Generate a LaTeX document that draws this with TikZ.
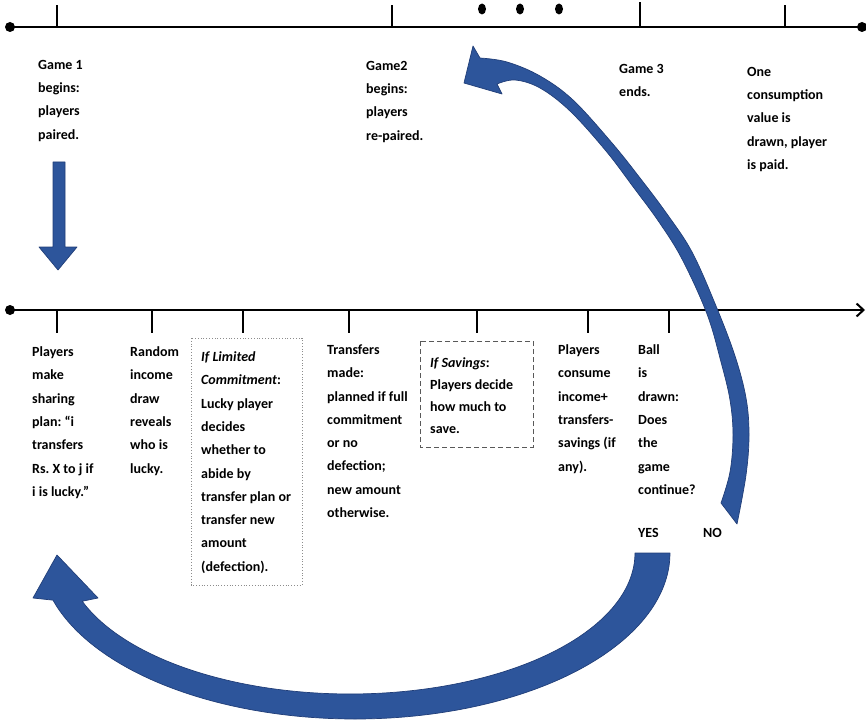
\documentclass[tikz,border=0pt]{standalone}
\usepackage{fontspec}
\setmainfont{Carlito}
\usetikzlibrary{arrows.meta}
\definecolor{arrblue}{RGB}{45,85,155}
\definecolor{arredge}{RGB}{33,62,120}
\frenchspacing
\begin{document}
\begin{tikzpicture}[x=1pt,y=-1pt,
  lbl/.style={anchor=north west,inner sep=0pt,align=left,font=\fontsize{14}{23.3}\selectfont\bfseries},
  tl/.style={line width=2pt},
  tickline/.style={line width=1.4pt},
  bigarrow/.style={fill=arrblue,draw=arredge,line width=0.7pt,line join=round}]
\useasboundingbox (0,0) rectangle (866,719);

% ---------- top timeline ----------
\coordinate (ta) at (10,27);
\coordinate (tb) at (866,27);
\draw[tl] (ta) -- (tb);
\fill (ta) circle[radius=5pt];
\fill (862,27) circle[radius=5pt];
\foreach \x/\y in {57/5,392/5,640/2,785/5}
  \draw[tickline] (\x,27) -- (\x,\y);
\foreach \x in {482,520,559}
  \fill (\x,9) ellipse[x radius=4pt,y radius=5.5pt];

% top labels
\node[lbl] (g1) at (38,60) {Game 1\\begins:\\players\\paired.};
\node[lbl] (g2) at (366,61) {Game2\\begins:\\players\\re-paired.};
\node[lbl] (g3) at (619,64) {Game 3\\ends.};
\node[lbl] (g4) at (747,67) {One\\consumption\\value is\\drawn, player\\is paid.};

% down arrow
\filldraw[bigarrow] (53,162) -- (65,162) -- (65,247) -- (77,247) -- (58,270) -- (39,247) -- (53,247) -- cycle;

% ---------- middle timeline ----------
\coordinate (ma) at (10,310);
\coordinate (mb) at (865,310);
\draw[tl,-{Straight Barb[length=7pt,width=13pt,line width=2pt]}] (ma) -- (mb);
\fill (ma) circle[radius=5pt];
\foreach \x in {57,152,243,349,477,588,669}
  \draw[tickline] (\x,310) -- (\x,333);

% boxes
\draw[black!45, dotted, line width=0.8pt] (191,338) rectangle (302,585);
\draw[black!65, line width=0.9pt, dash pattern=on 5pt off 3pt] (420,341) rectangle (533,447);

% lower labels
\node[lbl] (l1) at (32,346.5) {Players\\make\\sharing\\plan: “i\\transfers\\Rs. X to j if\\i is lucky.”};
\node[lbl] (l2) at (130,346.5) {Random\\income\\draw\\reveals\\who is\\lucky.};
\node[lbl] (l3) at (201,351.5) {\textit{If Limited}\\\textit{Commitment}:\\Lucky player\\decides\\whether to\\abide by\\transfer plan or\\transfer new\\amount\\(defection).};
\node[lbl] (l4) at (327,344.5) {Transfers\\made:\\planned if full\\commitment\\or no\\defection;\\new amount\\otherwise.};
\node[lbl,font=\fontsize{14}{22}\selectfont\bfseries] (l5) at (430,357.5) {\textit{If Savings}:\\Players decide\\how much to\\save.};
\node[lbl] (l6) at (558,344.5) {Players\\consume\\income+\\transfers-\\savings (if\\any).};
\node[lbl] (l7) at (638,344.5) {Ball\\is\\drawn:\\Does\\the\\game\\continue?};
\node[lbl] (yes) at (638,528.5) {YES};
\node[lbl] (no) at (703,528.5) {NO};

% ---------- NO arrow (back to game 2) ----------
\filldraw[bigarrow]
  plot[smooth,tension=0.6] coordinates {(737,524) (746,475) (749,435) (746,398) (735,356) (716,306) (692,252) (667,214) (640,178) (612,143) (573,100) (540,76) (507,62) (480,58)}
  -- (473,46) -- (464,83) -- (502,94)
  -- plot[smooth,tension=0.6] coordinates {(497,84) (515,80) (540,88) (570,111) (606,151) (634,188) (659,222) (682,259) (707,314) (721,362) (730,400) (733,435) (730,472) (721,503)}
  -- cycle;

% ---------- YES arrow (back to game start) ----------
\filldraw[bigarrow]
  plot[domain=0:163.5,samples=70,smooth] ({355+315*cos(\x)},{553+166*sin(\x)})
  -- (33,598) -- (57,555) -- (98,598)
  -- plot[domain=160:0,samples=70,smooth] ({350+285*cos(\x)},{553+141*sin(\x)})
  -- cycle;
\end{tikzpicture}
\end{document}
